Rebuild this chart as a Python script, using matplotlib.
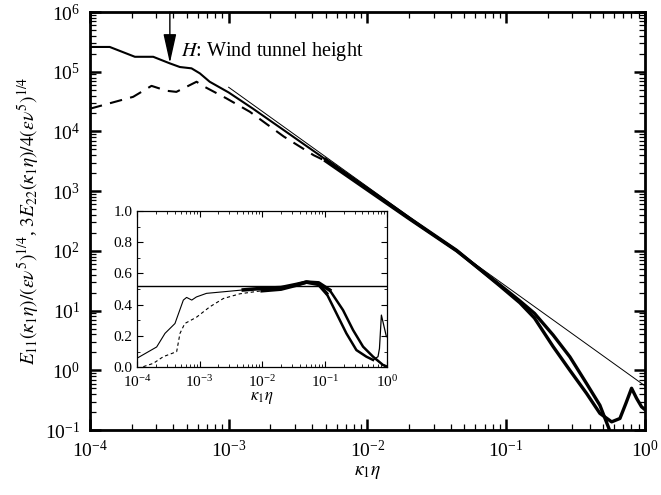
import matplotlib
matplotlib.use("Agg")
import matplotlib.pyplot as plt
import numpy as np
from matplotlib.ticker import LogLocator, MultipleLocator, NullFormatter

plt.rcParams["font.family"] = ["Liberation Serif", "DejaVu Serif"]
plt.rcParams["mathtext.fontset"] = "stix"

# normalised spectra
E11_K = [1.0e-4, 1.39e-4, 2.11e-4, 2.86e-4, 3.77e-4, 4.45e-4, 5.4e-4, 6.2e-4, 7.3e-4,
         1.0e-3, 1.5e-3, 2.5e-3, 5.0e-3, 1.0e-2, 2.0e-2, 4.4e-2, 9.0e-2, 0.1256, 0.16,
         0.218, 0.288, 0.38, 0.474, 0.576, 0.661, 0.73, 0.802, 0.871, 0.946, 1.0]
E11_E = [2.6e5, 2.6e5, 1.78e5, 1.78e5, 1.38e5, 1.2e5, 1.14e5, 9.4e4, 6.8e4,
         4.5e4, 2.4e4, 1.05e4, 3.4e3, 1.1e3, 355, 102, 26, 13.5, 7.5,
         2.5, 1.0, 0.41, 0.19, 0.137, 0.156, 0.28, 0.50, 0.34, 0.245, 0.22]

E22_K = [1.0e-4, 2.05e-4, 2.78e-4, 3.57e-4, 4.2e-4, 5.87e-4, 6.7e-4, 9.6e-4, 1.42e-3,
         2.5e-3, 4.1e-3, 5.0e-3, 1.0e-2, 2.0e-2, 4.4e-2, 9.0e-2, 0.1256, 0.16, 0.218,
         0.288, 0.38, 0.474, 0.545, 0.62]
E22_E = [2.4e4, 3.8e4, 5.8e4, 4.8e4, 4.6e4, 6.8e4, 5.6e4, 3.6e4, 2.14e4,
         8.2e3, 4.0e3, 3.2e3, 1.05e3, 345, 100, 27, 14.5, 9.0, 3.9,
         1.68, 0.60, 0.26, 0.113, 0.05]

# -5/3 reference line (end points)
REF_K = [1.0e-3, 1.0]
REF_E = [5.5e4, 0.55]

# compensated spectra shown in the inset
C11_K = [1.0e-4, 2.06e-4, 2.8e-4, 4.04e-4, 5.5e-4, 6.2e-4, 7.5e-4, 8.9e-4, 1.29e-3,
         2.4e-3, 5.0e-3, 1.0e-2, 2.0e-2, 3.5e-2, 5.1e-2, 8.0e-2, 0.1067, 0.154, 0.222,
         0.321, 0.463, 0.592, 0.711, 0.75, 0.805, 0.968]
C11_V = [0.058, 0.13, 0.217, 0.28, 0.43, 0.447, 0.43, 0.45, 0.473,
         0.483, 0.495, 0.505, 0.51, 0.53, 0.545, 0.53, 0.473, 0.345, 0.217,
         0.11, 0.068, 0.047, 0.068, 0.12, 0.334, 0.196]

C22_K = [1.26e-4, 1.82e-4, 2.63e-4, 4.3e-4, 4.86e-4, 5.8e-4, 8.9e-4, 1.46e-3, 2.4e-3,
         4.4e-3, 1.0e-2, 2.0e-2, 3.5e-2, 5.1e-2, 8.0e-2, 0.120, 0.196, 0.284, 0.41,
         0.592, 0.853, 1.0]
C22_V = [0.004, 0.025, 0.068, 0.10, 0.217, 0.28, 0.32, 0.387, 0.44,
         0.47, 0.49, 0.50, 0.525, 0.545, 0.54, 0.494, 0.366, 0.238, 0.132,
         0.068, 0.015, 0.004]

INSET_LEVEL = 0.52
ARROW_K = 3.77e-4
ARROW_TIP = 1.4e5


def band(k, v, lo=None, hi=None):
    """Slice a series to lo <= k <= hi (ends included)."""
    k = np.asarray(k)
    v = np.asarray(v)
    m = np.ones(k.size, dtype=bool)
    if lo is not None:
        m &= k >= lo
    if hi is not None:
        m &= k <= hi
    return k[m], v[m]


def style_log_axis(axis):
    axis.set_major_locator(LogLocator(base=10, numticks=20))
    axis.set_minor_locator(LogLocator(base=10, subs=np.arange(2, 10), numticks=50))
    axis.set_minor_formatter(NullFormatter())


fig = plt.figure(figsize=(6.61, 4.95), dpi=100)
ax = fig.add_axes([0.136, 0.1313, 0.8396, 0.8444])

ax.plot(REF_K, REF_E, color="k", lw=0.7)
ax.plot(*band(E11_K, E11_E, hi=5e-3), color="k", lw=1.5)
ax.plot(*band(E11_K, E11_E, lo=5e-3), color="k", lw=2.4)
ax.plot(*band(E22_K, E22_E, hi=5e-3), color="k", lw=1.5, dashes=(6, 4))
ax.plot(*band(E22_K, E22_E, lo=5e-3), color="k", lw=2.4)

ax.set_xscale("log")
ax.set_yscale("log")
ax.set_xlim(1e-4, 1.0)
ax.set_ylim(1e-1, 1e6)
style_log_axis(ax.xaxis)
style_log_axis(ax.yaxis)
ax.tick_params(which="both", direction="in", top=True, right=True, labelsize=14)
ax.tick_params(which="major", length=8, width=1.8, pad=7)
ax.tick_params(which="minor", length=4, width=0.9)
for sp in ax.spines.values():
    sp.set_linewidth(2.0)

ax.set_xlabel(r"$\kappa_1\eta$", fontsize=14, labelpad=2)
ax.set_ylabel(r"$E_{11}(\kappa_1\eta)/(\epsilon\nu^5)^{1/4}$, $3E_{22}(\kappa_1\eta)/4(\epsilon\nu^5)^{1/4}$",
              fontsize=14, labelpad=2)

ax.annotate("", xy=(ARROW_K, ARROW_TIP), xytext=(ARROW_K, 1e6),
            arrowprops=dict(arrowstyle="-|>,head_length=0.9,head_width=0.2",
                            mutation_scale=20, color="k", lw=1.0, shrinkA=0, shrinkB=0))
ax.text(4.5e-4, 2.2e5, r"$H$: Wind tunnel height", fontsize=14.5, va="center", ha="left")

# inset: compensated spectra (noisy plateau drawn as a thicker band)
axi = fig.add_axes([0.2073, 0.258, 0.3786, 0.3158])
axi.set_facecolor("white")
axi.axhline(INSET_LEVEL, color="k", lw=1.0)
axi.plot(*band(C11_K, C11_V, hi=5e-3), color="k", lw=0.8)
axi.plot(*band(C11_K, C11_V, lo=5e-3, hi=0.1067), color="k", lw=2.6)
axi.plot(*band(C11_K, C11_V, lo=0.1067, hi=0.592), color="k", lw=1.8)
axi.plot(*band(C11_K, C11_V, lo=0.592), color="k", lw=0.9)
axi.plot(*band(C22_K, C22_V, hi=1e-2), color="k", lw=0.8, dashes=(3, 2.5))
axi.plot(*band(C22_K, C22_V, lo=1e-2, hi=0.120), color="k", lw=2.6)
axi.plot(*band(C22_K, C22_V, lo=0.120), color="k", lw=1.8)
axi.set_xscale("log")
axi.set_xlim(1e-4, 1.0)
axi.set_ylim(0.0, 1.0)
style_log_axis(axi.xaxis)
axi.yaxis.set_minor_locator(MultipleLocator(0.1))
axi.set_yticks(np.arange(0, 1.01, 0.2))
axi.set_yticklabels([f"{v:.1f}" for v in np.arange(0, 1.01, 0.2)])
axi.tick_params(which="both", direction="in", top=True, right=True, labelsize=11)
axi.tick_params(which="major", length=4, width=0.8, pad=3)
axi.tick_params(axis="x", which="major", pad=5)
axi.tick_params(which="minor", length=2, width=0.6)
for sp in axi.spines.values():
    sp.set_linewidth(0.9)
axi.set_xlabel(r"$\kappa_1\eta$", fontsize=12, labelpad=0)

fig.savefig("out.png", dpi=100)
